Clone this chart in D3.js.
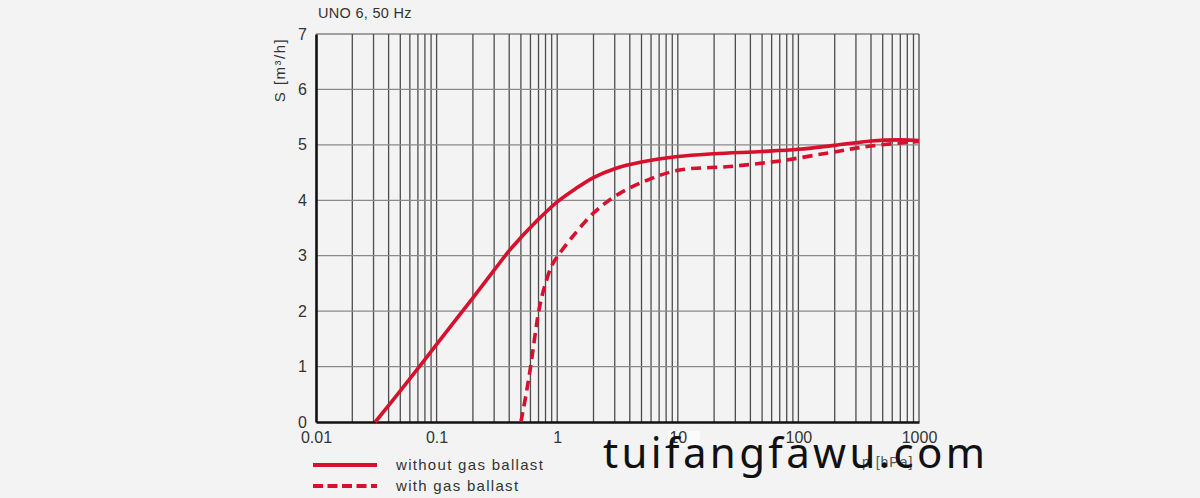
<!DOCTYPE html>
<html><head><meta charset="utf-8">
<script src="https://cdn.jsdelivr.net/npm/d3@7"></script>
<style>
html,body{margin:0;padding:0;background:#f3f3f3;}
svg{display:block;}
</style></head>
<body>
<svg id="c" width="1200" height="498"></svg>
<script>
const title = "UNO 6, 50 Hz";
const yTitle = "S [m³/h]";
const xTitle = "p [hPa]";
const xTickValues = [0.01, 0.1, 1, 10, 100, 1000];
const xTickLabels = ["0.01", "0.1", "1", "10", "100", "1000"];
const yTickValues = [0, 1, 2, 3, 4, 5, 6, 7];
const seriesNames = ["without gas ballast", "with gas ballast"];
const solidX = [0.031, 0.05, 0.1, 0.2, 0.3, 0.4, 0.5, 0.6, 0.7, 0.8, 1, 1.4, 2, 3, 5, 10, 20, 50, 100, 200, 400, 700, 1000];
const solidY = [0, 0.56, 1.40, 2.24, 2.74, 3.09, 3.33, 3.51, 3.66, 3.78, 3.97, 4.2, 4.41, 4.57, 4.69, 4.79, 4.84, 4.88, 4.92, 4.99, 5.07, 5.09, 5.08];
const dashX = [0.5, 0.55, 0.6, 0.7, 0.75, 0.8, 0.9, 1, 1.3, 2, 3, 5, 10, 27, 70, 183, 400, 1000];
const dashY = [0, 0.48, 0.98, 1.98, 2.28, 2.5, 2.82, 2.98, 3.31, 3.77, 4.07, 4.32, 4.54, 4.61, 4.71, 4.86, 4.98, 5.06];
const watermark = "tuifangfawu.com";

const svg = d3.select("#c");
const L = 316, R = 919, T = 34, B = 422;
const x = d3.scaleLog().domain([0.01, 1000]).range([L, R]);
const y = d3.scaleLinear().domain([0, 7]).range([B, T]);
const red = "#d7102d";
const FONT = "Liberation Sans, Arial, sans-serif";

// whitish patch behind the "10" label (as in the source)
svg.append("rect").attr("x", 668).attr("y", 431).attr("width", 32).attr("height", 16).attr("fill", "#fbfbfb");

// vertical grid
const vgrid = [];
for (let e = -2; e <= 2; e++) for (let m = 1; m <= 9; m++) vgrid.push(m * Math.pow(10, e));
vgrid.push(1000);
svg.append("g").selectAll("line").data(vgrid.filter(v => v > 0.01)).join("line")
  .attr("x1", d => x(d)).attr("x2", d => x(d)).attr("y1", T).attr("y2", B)
  .attr("stroke", "#4d4d4d").attr("stroke-width", 1.3);
svg.append("g").selectAll("line").data(yTickValues.filter(v => v > 0)).join("line")
  .attr("x1", L).attr("x2", R).attr("y1", d => y(d)).attr("y2", d => y(d))
  .attr("stroke", d => d === 7 ? "#4d4d4d" : "#8a8a8a").attr("stroke-width", 1.2);

// axes
const xAxis = svg.append("g").attr("transform", `translate(0,${B})`)
  .call(d3.axisBottom(x).tickValues(xTickValues).tickFormat((d, i) => xTickLabels[i]).tickSize(0).tickPadding(10));
xAxis.select(".domain").attr("stroke", "#111").attr("stroke-width", 2.6);
xAxis.selectAll("text").attr("font-family", FONT).attr("font-size", 16).attr("fill", "#333");
const yAxis = svg.append("g").attr("transform", `translate(${L},0)`)
  .call(d3.axisLeft(y).tickValues(yTickValues).tickFormat(d3.format("d")).tickSize(0).tickPadding(9));
yAxis.select(".domain").attr("stroke", "#111").attr("stroke-width", 2.6);
yAxis.selectAll("text").attr("font-family", FONT).attr("font-size", 16).attr("fill", "#333");

// curves
const line = d3.line().x(d => x(d[0])).y(d => y(d[1])).curve(d3.curveCatmullRom.alpha(0.5));
svg.append("path").datum(solidX.map((v, i) => [v, solidY[i]])).attr("d", line)
  .attr("fill", "none").attr("stroke", red).attr("stroke-width", 3.6);
svg.append("path").datum(dashX.map((v, i) => [v, dashY[i]])).attr("d", line)
  .attr("fill", "none").attr("stroke", red).attr("stroke-width", 3.6).attr("stroke-dasharray", "10,6");

// titles
svg.append("text").attr("x", 318).attr("y", 18).text(title)
  .attr("font-family", FONT).attr("font-size", 14.5).attr("fill", "#333").attr("letter-spacing", 0.3);
svg.append("text").attr("transform", "translate(285,70) rotate(-90)").attr("text-anchor", "middle").text(yTitle)
  .attr("font-family", FONT).attr("font-size", 15).attr("fill", "#333").attr("letter-spacing", 1.5);
svg.append("text").attr("x", 862).attr("y", 467).text(xTitle)
  .attr("font-family", FONT).attr("font-size", 14).attr("fill", "#555").attr("letter-spacing", 1);

// legend
const leg = svg.append("g");
seriesNames.forEach((n, i) => {
  const yy = 465 + i * 21;
  leg.append("line").attr("x1", 313).attr("x2", 377).attr("y1", yy).attr("y2", yy)
    .attr("stroke", red).attr("stroke-width", 4).attr("stroke-dasharray", i ? "10,4.5" : null);
  leg.append("text").attr("x", 396).attr("y", yy + 5).text(n)
    .attr("font-family", FONT).attr("font-size", 15).attr("fill", "#333").attr("letter-spacing", 1.3);
});

// watermark
svg.append("text").attr("x", 603).attr("y", 468).text(watermark)
  .attr("font-family", "Noto Sans, Open Sans, sans-serif").attr("font-size", 42).attr("fill", "#111")
  .attr("textLength", 382).attr("lengthAdjust", "spacing");
</script>
</body></html>
